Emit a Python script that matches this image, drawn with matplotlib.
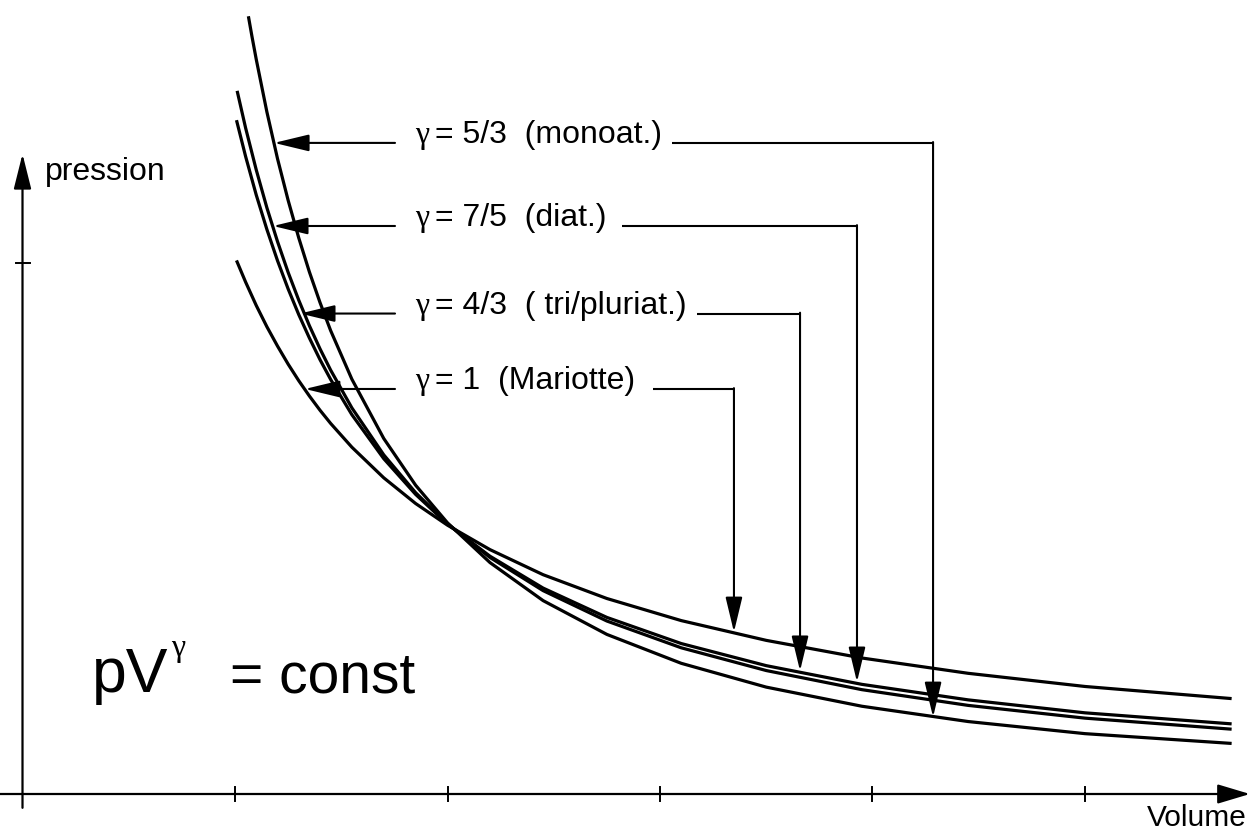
import matplotlib
matplotlib.use('Agg')
import matplotlib.pyplot as plt

plt.rcParams['font.family'] = ['Liberation Sans', 'DejaVu Sans']

## ###############################
##  DATA
## ###############################
# volume samples for each curve (x axis, tick spacing = 1)
V_mariotte = [1.007, 1.05, 1.1, 1.15, 1.2, 1.25, 1.3, 1.35, 1.4, 1.45, 1.55, 1.7, 1.85, 2.0, 2.2, 2.45, 2.75, 3.1, 3.5, 3.95, 4.45, 5.0, 5.69]
V_tri      = [1.007, 1.05, 1.1, 1.15, 1.2, 1.25, 1.3, 1.35, 1.4, 1.45, 1.55, 1.7, 1.85, 2.0, 2.2, 2.45, 2.75, 3.1, 3.5, 3.95, 4.45, 5.0, 5.69]
V_diat     = [1.010, 1.05, 1.1, 1.15, 1.2, 1.25, 1.3, 1.35, 1.4, 1.45, 1.55, 1.7, 1.85, 2.0, 2.2, 2.45, 2.75, 3.1, 3.5, 3.95, 4.45, 5.0, 5.69]
V_mono     = [1.063, 1.08, 1.1, 1.15, 1.2, 1.25, 1.3, 1.35, 1.4, 1.45, 1.55, 1.7, 1.85, 2.0, 2.2, 2.45, 2.75, 3.1, 3.5, 3.95, 4.45, 5.0, 5.69]

# pressure read at those volumes
p_mariotte = [2.511, 2.409, 2.299, 2.199, 2.108, 2.023, 1.945, 1.873, 1.806, 1.744, 1.632, 1.488, 1.367, 1.265,
              1.150, 1.032, 0.920, 0.816, 0.723, 0.640, 0.568, 0.506, 0.449]
p_tri      = [3.171, 3.000, 2.819, 2.657, 2.510, 2.377, 2.256, 2.146, 2.044, 1.951, 1.785, 1.578, 1.410, 1.270,
              1.119, 0.969, 0.831, 0.708, 0.604, 0.516, 0.443, 0.382, 0.330]
p_diat     = [3.309, 3.134, 2.937, 2.759, 2.600, 2.455, 2.324, 2.204, 2.095, 1.995, 1.817, 1.596, 1.418, 1.272,
              1.113, 0.957, 0.814, 0.688, 0.581, 0.491, 0.417, 0.357, 0.305]
p_mono     = [3.660, 3.564, 3.457, 3.210, 2.990, 2.794, 2.617, 2.457, 2.313, 2.181, 1.952, 1.673, 1.453, 1.276,
              1.089, 0.910, 0.751, 0.615, 0.503, 0.413, 0.341, 0.284, 0.238]

gamma_sym = '\u03b3'
labels = ['= 5/3  (monoat.)', '= 7/5  (diat.)', '= 4/3  ( tri/pluriat.)', '= 1  (Mariotte)']

x_ticks = [1, 2, 3, 4, 5]
y_ticks = [2.5]

# ------------------------------
# label / arrow layout (data units), one row per label
# ------------------------------
row_p       = [3.064, 2.673, 2.261, 1.906]   # baseline of text + connector lines
left_start  = [1.753, 1.753, 1.753, 1.753]
left_tip    = [1.184, 1.179, 1.306, 1.329]
right_start = [3.056, 2.821, 3.174, 2.967]
drop_V      = [4.285, 3.927, 3.659, 3.348]
drop_tip    = [0.362, 0.527, 0.579, 0.762]
gamma_V = 1.847
text_V = 1.94

## ###############################
##  PLOT
## ###############################
fig = plt.figure(figsize=(12.53, 8.30), dpi=100)
ax = fig.add_axes([0, 0, 1, 1])
ax.set_xlim(-0.1059, 5.7906)
ax.set_ylim(-0.1694, 3.7365)
ax.axis('off')

lwc = 2.3
for V, p in [(V_mariotte, p_mariotte), (V_tri, p_tri), (V_diat, p_diat), (V_mono, p_mono)]:
  ax.plot(V, p, color='k', linewidth=lwc, solid_capstyle='butt', solid_joinstyle='round')

# axes with arrows
ax.annotate('', xy=(0, 3.012), xytext=(0, -0.065),
            arrowprops=dict(arrowstyle='-|>,head_length=2.16,head_width=0.54', mutation_scale=10,
                            lw=1.6, color='k', shrinkA=0, shrinkB=0))
ax.annotate('', xy=(5.776, 0), xytext=(-0.106, 0),
            arrowprops=dict(arrowstyle='-|>,head_length=2.0,head_width=0.6', mutation_scale=10,
                            lw=1.6, color='k', shrinkA=0, shrinkB=0))
for xt in x_ticks:
  ax.plot([xt, xt], [-0.035, 0.035], color='k', linewidth=1.4)
for yt in y_ticks:
  ax.plot([-0.03, 0.035], [yt, yt], color='k', linewidth=1.4)

ax.text(0.106, 2.889, 'pression', fontsize=23, ha='left', va='baseline')
ax.text(5.762, -0.151, 'Volume', fontsize=21.5, ha='right', va='baseline')

# labels with connectors
arr = dict(arrowstyle='-|>,head_length=2.16,head_width=0.52', mutation_scale=10,
           lw=1.5, color='k', shrinkA=0, shrinkB=0)
for i in range(4):
  ax.annotate('', xy=(left_tip[i], row_p[i]), xytext=(left_start[i], row_p[i]), arrowprops=arr)
  ax.text(gamma_V, row_p[i], gamma_sym, fontsize=23, family='Liberation Serif', ha='left', va='baseline')
  ax.text(text_V, row_p[i], labels[i], fontsize=23, ha='left', va='baseline')
  ax.plot([right_start[i], drop_V[i]], [row_p[i], row_p[i]], color='k', linewidth=1.5,
          solid_capstyle='butt')
  ax.annotate('', xy=(drop_V[i], drop_tip[i]), xytext=(drop_V[i], row_p[i] + 0.004), arrowprops=arr)

# pV^gamma = const
ax.text(0.327, 0.48, 'pV', fontsize=45, ha='left', va='baseline')
ax.text(0.700, 0.649, gamma_sym, fontsize=23, family='Liberation Serif', ha='left', va='baseline')
ax.text(0.977, 0.48, '= const', fontsize=41, ha='left', va='baseline')

plt.savefig('out.png', dpi=100, facecolor='w', edgecolor='w')
